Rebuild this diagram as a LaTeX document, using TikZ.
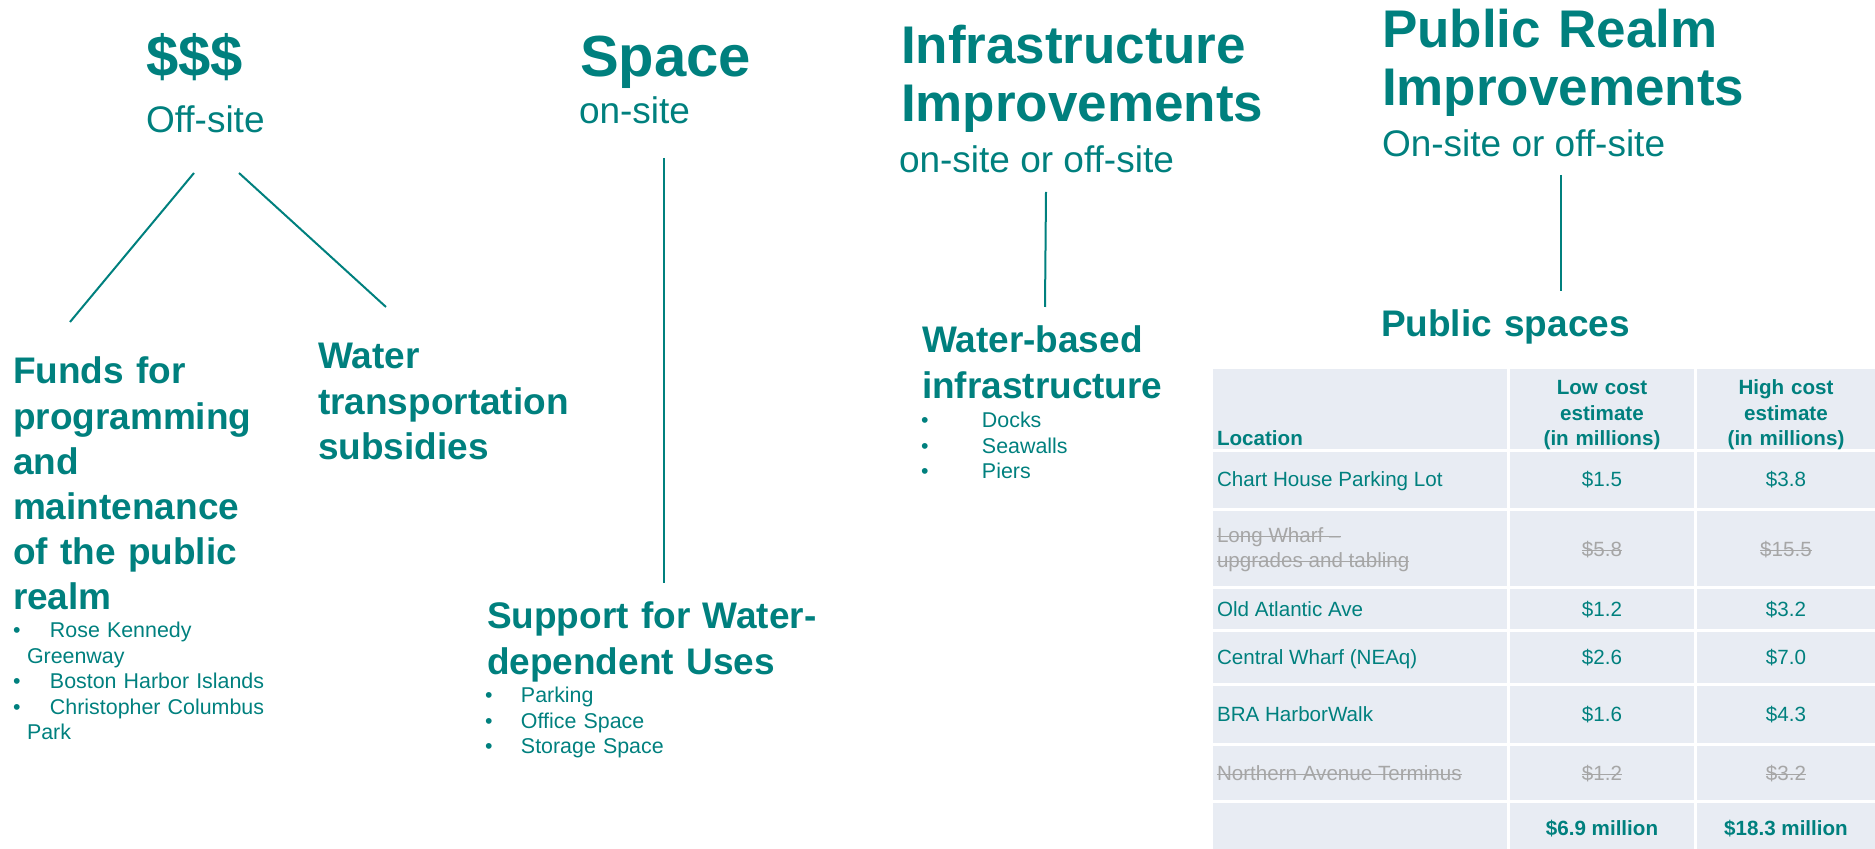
\documentclass[tikz,border=0pt]{standalone}
\usepackage{fontspec}
\setmainfont{Liberation Sans}
\usetikzlibrary{positioning}
\definecolor{harbor}{RGB}{0,128,126}
\definecolor{cellfill}{RGB}{232,236,243}
\definecolor{struck}{RGB}{166,166,166}
\newcommand{\dotitem}[1]{\makebox[#1][l]{•}}
\newsavebox{\strikebox}
\newcommand{\strike}[1]{\sbox\strikebox{#1}\rlap{\rule[0.27em]{\wd\strikebox}{0.5pt}}\usebox\strikebox}

\begin{document}
\begin{tikzpicture}[x=0.5pt, y=-0.5pt,
    every node/.style={inner sep=0pt, outer sep=0pt, text=harbor, anchor=base west},
    big/.style={font=\fontsize{29}{32}\selectfont\bfseries},
    head/.style={font=\fontsize{26.5}{29}\selectfont\bfseries, text width=220pt, align=left},
    sub/.style={font=\fontsize{18.5}{22.5}\selectfont},
    topic/.style={font=\fontsize{18.5}{22.6}\selectfont\bfseries, text width=200pt, align=left},
    items/.style={font=\fontsize{10.7}{12.75}\selectfont, text width=150pt, align=left},
    cell/.style={font=\fontsize{10.3}{12.75}\selectfont},
    cellhead/.style={font=\fontsize{10.3}{12.75}\selectfont\bfseries, text width=90pt, align=center, anchor=base},
    num/.style={cell, anchor=base},
    gone/.style={text=struck},
    link/.style={draw=harbor, line width=1pt}
    ]
\useasboundingbox (0,0) rectangle (1875,849);
% $$$
\node[big] (money) at (146,77) {\$\$\$};
\node[sub] (money') at (146,133) {Off-site};
\node[topic] (funds) at (13,384) {Funds for\\programming\\and\\maintenance\\of the public\\realm};
\node[items] (parks) at (13,638) {\dotitem{18.5pt}Rose Kennedy\\\hspace*{7pt}Greenway\\\dotitem{18.5pt}Boston Harbor Islands\\\dotitem{18.5pt}Christopher Columbus\\\hspace*{7pt}Park};
\node[topic] (ferry) at (318,369) {Water\\transportation\\subsidies};
% Space
\node[big] (space) at (580,77) {Space};
\node[sub] (space') at (579,124) {on-site};
\node[topic] (support) at (487,629) {Support for Water-\\dependent Uses};
\node[items] (uses) at (485,703) {\dotitem{18pt}Parking\\\dotitem{18pt}Office Space\\\dotitem{18pt}Storage Space};
% Infrastructure
\node[head] (infra) at (901,64) {Infrastructure\\Improvements};
\node[sub] (infra') at (899,173) {on-site or off-site};
\node[topic] (water) at (922,353) {Water-based\\infrastructure};
\node[items] (docks) at (921,428) {\dotitem{30.5pt}Docks\\\dotitem{30.5pt}Seawalls\\\dotitem{30.5pt}Piers};
% Public realm
\node[head] (realm) at (1382,48) {Public Realm\\Improvements};
\node[sub] (realm') at (1382,157) {On-site or off-site};
\node[topic] (spaces) at (1381,337) {Public spaces};

% connectors
\coordinate (money-l) at (194,173);
\coordinate (money-r) at (239,173);
\coordinate (funds-t) at (70,322);
\coordinate (ferry-t) at (386,307);
\coordinate (space-b) at (664,158);
\coordinate (support-t) at (664,583);
\coordinate (infra-b) at (1046,192);
\coordinate (water-t) at (1045,307);
\coordinate (realm-b) at (1561,175);
\coordinate (spaces-t) at (1561,291);
\draw[link] (money-l) -- (funds-t) (money-r) -- (ferry-t);
\draw[link] (space-b) -- (support-t);
\draw[link] (infra-b) -- (water-t);
\draw[link] (realm-b) -- (spaces-t);

% table
\foreach \ya/\yb in {369/449, 452/508, 511/586, 589/629, 632/683, 686/743, 746/800, 803/849}
  \foreach \xa/\xb in {1213/1507, 1510/1694, 1697/1875}
    \fill[cellfill] (\xa,\ya) rectangle (\xb,\yb);
\node[cell, font=\fontsize{10.3}{12.75}\selectfont\bfseries] (loc) at (1217,446) {Location};
\node[cellhead] (low) at (1602,395) {Low cost\\estimate\\(in millions)};
\node[cellhead] (high) at (1786,395) {High cost\\estimate\\(in millions)};
\node[cell] (r1) at (1217,487) {Chart House Parking Lot};
\node[cell, gone] (r2) at (1217,543) {\strike{Long Wharf –}};
\node[cell, gone] (r2') at (1217,568) {\strike{upgrades and tabling}};
\node[cell] (r3) at (1217,617) {Old Atlantic Ave};
\node[cell] (r4) at (1217,665) {Central Wharf (NEAq)};
\node[cell] (r5) at (1217,722) {BRA HarborWalk};
\node[cell, gone] (r6) at (1217,781) {\strike{Northern Avenue Terminus}};
\node[num] (r1l) at (1602,487) {\$1.5};
\node[num] (r1h) at (1786,487) {\$3.8};
\node[num, gone] (r2l) at (1602,557) {\strike{\$5.8}};
\node[num, gone] (r2h) at (1786,557) {\strike{\$15.5}};
\node[num] (r3l) at (1602,617) {\$1.2};
\node[num] (r3h) at (1786,617) {\$3.2};
\node[num] (r4l) at (1602,665) {\$2.6};
\node[num] (r4h) at (1786,665) {\$7.0};
\node[num] (r5l) at (1602,722) {\$1.6};
\node[num] (r5h) at (1786,722) {\$4.3};
\node[num, gone] (r6l) at (1602,781) {\strike{\$1.2}};
\node[num, gone] (r6h) at (1786,781) {\strike{\$3.2}};
\node[num, font=\fontsize{10.3}{12.75}\selectfont\bfseries] (totl) at (1602,835) {\$6.9 million};
\node[num, font=\fontsize{10.3}{12.75}\selectfont\bfseries] (toth) at (1786,835) {\$18.3 million};
\end{tikzpicture}
\end{document}
